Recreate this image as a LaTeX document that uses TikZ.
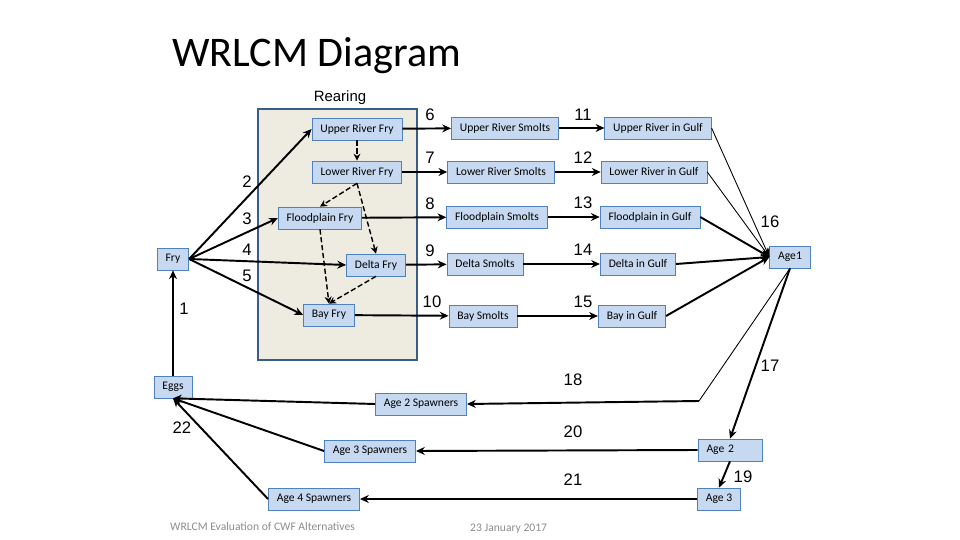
\documentclass[tikz,border=0pt]{standalone}
\usepackage{fontspec}
\setmainfont{Carlito}
\newfontfamily\arialfont{Liberation Sans}
\usetikzlibrary{arrows.meta}
\definecolor{myBlue}{HTML}{C6D9F1}
\definecolor{myEdge}{HTML}{4F81BD}
\definecolor{myTan}{HTML}{EEECE1}
\definecolor{myFrame}{HTML}{385D8A}
\definecolor{myGray}{HTML}{8C8C8C}

\tikzset{
  box/.style={draw=myEdge, line width=0.4pt, fill=myBlue, inner xsep=4.8pt, inner ysep=0pt,
    minimum height=12.5pt, font=\fontsize{6.6}{8}\selectfont},
  num/.style={font=\arialfont\fontsize{9.5}{11}\selectfont},
  flow/.style={-{Stealth[length=5pt,width=4.5pt]}, line width=1.1pt},
  thinflow/.style={-{Stealth[length=5pt,width=4.5pt]}, line width=0.5pt},
  drift/.style={-{Stealth[length=4pt,width=4pt]}, line width=0.8pt, dash pattern=on 3pt off 1.5pt}
}

\begin{document}
\begin{tikzpicture}[x=0.02cm, y=-0.02cm]
\useasboundingbox (0,0) rectangle (960,540);

\node[anchor=base west, font=\fontsize{24}{28}\selectfont] (title) at (166,67) {WRLCM Diagram};

% rearing area
\fill[myTan] (258,109) rectangle (417,360);
\draw[myFrame, line width=1.1pt] (258,109) rectangle (417,360);
\node[font=\arialfont\fontsize{8.5}{10}\selectfont] (rearing) at (340,98) {Rearing};

\node[box] (fry) at (173,259) {Fry};
\node[box] (eggs) at (173,387) {Eggs};

\node[box] (upfry) at (357,129) {Upper River Fry};
\node[box] (lowfry) at (357,172) {Lower River Fry};
\node[box] (floodfry) at (320,218) {Floodplain Fry};
\node[box] (deltafry) at (376,265) {Delta Fry};
\node[box] (bayfry) at (329,315) {Bay Fry};

\node[box] (upsmolt) at (505,128) {Upper River Smolts};
\node[box] (lowsmolt) at (501,172) {Lower River Smolts};
\node[box] (floodsmolt) at (497,217) {Floodplain Smolts};
\node[box] (deltasmolt) at (485,264) {Delta Smolts};
\node[box] (baysmolt) at (483,316) {Bay Smolts};

\node[box] (upgulf) at (658,128) {Upper River in Gulf};
\node[box] (lowgulf) at (654,172) {Lower River in Gulf};
\node[box] (floodgulf) at (650,217) {Floodplain in Gulf};
\node[box] (deltagulf) at (638,264) {Delta in Gulf};
\node[box] (baygulf) at (632,316) {Bay in Gulf};

\node[box] (ageone) at (790,257) {Age1};
\node[box, text width=0.94cm, align=left] (agetwo) at (730,450) {Age 2};
\node[box] (agethree) at (719,499) {Age 3};

\node[box] (spawntwo) at (421,404) {Age 2 Spawners};
\node[box] (spawnthree) at (370,451) {Age 3 Spawners};
\node[box] (spawnfour) at (314,499) {Age 4 Spawners};

\coordinate (bend) at (699,401);

% fry into rearing
\draw[flow] (eggs) -- (fry);
\draw[flow] (fry.east) -- (upfry.west);
\draw[flow] (fry.east) -- (floodfry.west);
\draw[flow] (fry.east) -- (deltafry.west);
\draw[flow] (fry.east) -- (bayfry.west);

\draw[drift] (upfry) -- (lowfry);
\draw[drift] (lowfry.south) -- (floodfry.north);
\draw[drift] (lowfry.south) -- (deltafry.north);
\draw[drift] (floodfry.south) -- (bayfry.north);
\draw[drift] (deltafry.south) -- (bayfry.north);

% smolts and gulf
\draw[flow] (upfry) -- (upsmolt);
\draw[flow] (lowfry) -- (lowsmolt);
\draw[flow] (floodfry) -- (floodsmolt);
\draw[flow] (deltafry) -- (deltasmolt);
\draw[flow] (bayfry) -- (baysmolt);

\draw[flow] (upsmolt) -- (upgulf);
\draw[flow] (lowsmolt) -- (lowgulf);
\draw[flow] (floodsmolt) -- (floodgulf);
\draw[flow] (deltasmolt) -- (deltagulf);
\draw[flow] (baysmolt) -- (baygulf);

\draw[thinflow] (upgulf.east) -- (ageone.west);
\draw[thinflow] (lowgulf.east) -- (ageone.west);
\draw[flow] (floodgulf.east) -- (ageone.west);
\draw[flow] (deltagulf.east) -- (ageone.west);
\draw[flow] (baygulf.east) -- (ageone.west);

% ocean ages and spawners
\draw[line width=0.5pt] (ageone.south) -- (bend);
\draw[flow] (bend) -- (spawntwo.east);
\draw[flow] (ageone.south) -- (agetwo.north);
\draw[flow] (agetwo.south) -- (agethree.north);
\draw[flow] (agetwo.west) -- (spawnthree.east);
\draw[flow] (agethree.west) -- (spawnfour.east);

\draw[flow] (spawntwo.west) -- (eggs.south);
\draw[flow] (spawnthree.west) -- (eggs.south);
\draw[flow] (spawnfour.west) -- (eggs.south);

\node[num] (n1) at (184,309) {1};
\node[num] (n2) at (247,182) {2};
\node[num] (n3) at (247,219) {3};
\node[num] (n4) at (247,250) {4};
\node[num] (n5) at (247,276) {5};
\node[num] (n6) at (430,115) {6};
\node[num] (n7) at (430,158) {7};
\node[num] (n8) at (430,204) {8};
\node[num] (n9) at (430,251) {9};
\node[num] (n10) at (432,302) {10};
\node[num] (n11) at (583,115) {11};
\node[num] (n12) at (583,158) {12};
\node[num] (n13) at (583,203) {13};
\node[num] (n14) at (583,250) {14};
\node[num] (n15) at (583,302) {15};
\node[num] (n16) at (770,222) {16};
\node[num] (n17) at (770,366) {17};
\node[num] (n18) at (573,380) {18};
\node[num] (n19) at (743,477) {19};
\node[num] (n20) at (573,432) {20};
\node[num] (n21) at (573,480) {21};
\node[num] (n22) at (182,428) {22};

\node[anchor=west, text=myGray, font=\fontsize{6.6}{8}\selectfont] (footer) at (164,527) {WRLCM Evaluation of CWF Alternatives};
\node[anchor=west, text=myGray, font=\fontsize{6.6}{8}\selectfont] (date) at (464,529) {23 January 2017};
\end{tikzpicture}
\end{document}
